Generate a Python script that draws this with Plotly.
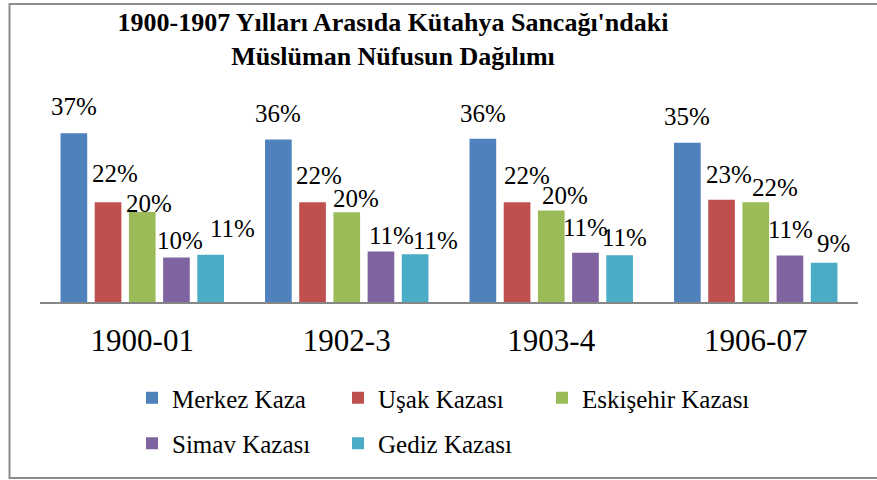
import plotly.graph_objects as go

# ---------------- data ----------------
categories = ["1900-01", "1902-3", "1903-4", "1906-07"]
series_names = ["Merkez Kaza", "Uşak Kazası", "Eskişehir Kazası", "Simav Kazası", "Gediz Kazası"]
merkez = [37.1, 35.7, 35.9, 35.0]
usak = [21.9, 21.9, 21.9, 22.5]
eskisehir = [19.8, 19.7, 20.1, 21.9]
simav = [9.8, 11.1, 10.8, 10.2]
gediz = [10.4, 10.5, 10.3, 8.6]
merkez_lbl = ["37%", "36%", "36%", "35%"]
usak_lbl = ["22%", "22%", "22%", "23%"]
eskisehir_lbl = ["20%", "20%", "20%", "22%"]
simav_lbl = ["10%", "11%", "11%", "11%"]
gediz_lbl = ["11%", "11%", "11%", "9%"]
title_text = "1900-1907 Yılları Arasıda Kütahya Sancağı'ndaki<br>Müslüman Nüfusun Dağılımı"

# ---------------- style ----------------
W, H = 877, 480
ML, MR, MT, MB = 40, 19, 120, 178
PW, PH = W - ML - MR, H - MT - MB
colors = ["#4F81BD", "#C0504D", "#9BBB59", "#8064A2", "#4BACC6"]
FONT = "Liberation Serif"
BARGAP, BARGROUPGAP = 0.164, 0.22
# manual label nudges (px): horizontal from bar centre, vertical above bar top
lbl_dx = [[0, -0.5, 0, 0], [6.5, 6.5, 9.5, 7], [7, 9, 14, 19], [3.5, 10.5, 0, 1], [22, 20.5, 5, 9]]
lbl_dy = [[26.5, 26, 25, 26.2], [28.8, 27.3, 26.8, 25.3], [8.7, 13.7, 15, 15], [16.7, 16, 25.7, 26.3], [25.7, 13.8, 17.7, 19.4]]
legend_pos = [(132, 398), (338, 398), (542, 398), (132, 443.5), (338, 443.5)]

values = [merkez, usak, eskisehir, simav, gediz]
labels = [merkez_lbl, usak_lbl, eskisehir_lbl, simav_lbl, gediz_lbl]

fig = go.Figure()
legend_keys = ["legend", "legend2", "legend3", "legend4", "legend5"]
for j, (name, vals) in enumerate(zip(series_names, values)):
    fig.add_trace(go.Bar(
        x=categories, y=vals, name=name,
        marker=dict(color=colors[j], line=dict(width=0)),
        legend=legend_keys[j], hoverinfo="skip",
    ))

n = len(series_names)
slot = (1 - BARGAP) / n
annotations = []
for j in range(n):
    off = -(1 - BARGAP) / 2 + slot * (j + 0.5)
    for i, cat in enumerate(categories):
        annotations.append(dict(
            x=i + off, y=values[j][i], xref="x", yref="y",
            text=labels[j][i], showarrow=False,
            xanchor="center", yanchor="middle",
            xshift=lbl_dx[j][i], yshift=lbl_dy[j][i],
            font=dict(family=FONT, size=25, color="black"),
        ))

def px_x(p):
    return (p - ML) / PW

def px_y(p):
    return (H - MB - p) / PH

shapes = [dict(type="rect", xref="paper", yref="paper",
               x0=px_x(9.5), x1=px_x(890), y0=px_y(478), y1=px_y(4),
               line=dict(color="#8c8c8c", width=2), fillcolor="rgba(0,0,0,0)", layer="below")]

layout_legends = {}
for k, (lx, ly) in zip(legend_keys, legend_pos):
    layout_legends[k] = dict(
        xref="container", yref="container", x=lx / W, y=1 - ly / H,
        xanchor="left", yanchor="middle", orientation="h",
        font=dict(family=FONT, size=25, color="black"),
        bgcolor="rgba(0,0,0,0)", borderwidth=0,
    )

fig.update_layout(
    width=W, height=H,
    margin=dict(l=ML, r=MR, t=MT, b=MB),
    paper_bgcolor="white", plot_bgcolor="white",
    barmode="group", bargap=BARGAP, bargroupgap=BARGROUPGAP,
    showlegend=True,
    font=dict(family=FONT, color="black"),
    title=dict(text=title_text, xref="container", yref="container",
               x=393 / W, y=1 - 31 / H, xanchor="center", yanchor="middle",
               font=dict(family=FONT, size=26, color="black", weight="bold")),
    xaxis=dict(type="category", showline=True, linecolor="#868686", linewidth=1.5,
               ticks="", showgrid=False, zeroline=False, ticklabelstandoff=10,
               tickfont=dict(family=FONT, size=31, color="black")),
    yaxis=dict(range=[0, 40], visible=False, showgrid=False, zeroline=False),
    annotations=annotations, shapes=shapes,
    **layout_legends,
)

fig.write_html("out.html", config={"displayModeBar": False},
               post_script="document.body.style.margin='0';")
